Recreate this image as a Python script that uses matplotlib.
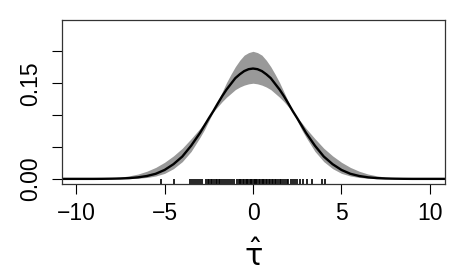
import matplotlib
matplotlib.use('Agg')
import matplotlib.pyplot as plt

plt.rcParams['font.family'] = ['Liberation Sans', 'DejaVu Sans']
plt.rcParams['mathtext.fontset'] = 'dejavusans'

# tau grid the curves were read at (finer near the peak)
x = [-11.0, -10.5, -10.0, -9.5, -9.0, -8.5, -8.0, -7.5, -7.0, -6.5, -6.0,
     -5.5, -5.0, -4.5, -4.0, -3.5, -3.0, -2.75, -2.5, -2.25, -2.0, -1.75,
     -1.5, -1.25, -1.0, -0.75, -0.5, -0.25,
     0.0, 0.25, 0.5, 0.75, 1.0, 1.25, 1.5, 1.75, 2.0, 2.25, 2.5, 2.75,
     3.0, 3.5, 4.0, 4.5, 5.0, 5.5, 6.0, 6.5, 7.0, 7.5, 8.0, 8.5, 9.0,
     9.5, 10.0, 10.5, 11.0]

# estimated density (black line)
dens = [0, 0, 0, 0, 0, 0.0001, 0.0003, 0.0006, 0.0012, 0.0024, 0.0045,
        0.008, 0.014, 0.023, 0.035, 0.052, 0.072, 0.0835, 0.095, 0.106, 0.118, 0.1295,
        0.140, 0.149, 0.158, 0.164, 0.169, 0.172,
        0.173, 0.172, 0.169, 0.164, 0.158, 0.149, 0.140, 0.1295, 0.118, 0.106, 0.095, 0.0835,
        0.072, 0.052, 0.035, 0.023, 0.014, 0.008, 0.0045, 0.0024, 0.0012, 0.0006, 0.0003,
        0.0001, 0, 0, 0, 0, 0]

# pointwise band (grey)
upper = [0, 0, 0.0001, 0.0003, 0.0005, 0.0009, 0.0016, 0.0028, 0.0047, 0.0076, 0.012,
         0.018, 0.026, 0.036, 0.048, 0.063, 0.079, 0.088, 0.096, 0.106, 0.121, 0.136,
         0.151, 0.164, 0.176, 0.186, 0.194, 0.198,
         0.200, 0.198, 0.194, 0.186, 0.176, 0.164, 0.151, 0.136, 0.121, 0.106, 0.096, 0.088,
         0.079, 0.063, 0.048, 0.036, 0.026, 0.018, 0.012, 0.0076, 0.0047, 0.0028, 0.0016,
         0.0009, 0.0005, 0.0003, 0.0001, 0, 0]
lower = [0, 0, 0, 0, 0, 0, 0.0001, 0.0002, 0.0004, 0.001, 0.0022,
         0.0045, 0.0086, 0.016, 0.027, 0.043, 0.065, 0.077, 0.091, 0.105, 0.113, 0.121,
         0.128, 0.134, 0.140, 0.144, 0.147, 0.149,
         0.150, 0.149, 0.147, 0.144, 0.140, 0.134, 0.128, 0.121, 0.113, 0.105, 0.091, 0.077,
         0.065, 0.043, 0.027, 0.016, 0.0086, 0.0045, 0.0022, 0.001, 0.0004, 0.0002, 0.0001,
         0, 0, 0, 0, 0, 0]

# observed estimates shown as a rug
rug = [-5.23, -4.44, -3.58, -3.45, -3.35, -3.22, -3.1, -2.98, -2.88, -2.65, -2.55,
       -2.47, -2.38, -2.3, -2.2, -2.12, -2.02, -1.93, -1.84, -1.75, -1.62, -1.52,
       -1.43, -1.33, -1.2, -1.09, -0.9, -0.82, -0.74, -0.66, -0.58, -0.5, -0.42,
       -0.35, -0.27, -0.2, -0.12, -0.05, 0.03, 0.1, 0.18, 0.25, 0.33, 0.41, 0.48,
       0.56, 0.64, 0.72, 0.8, 0.88, 0.96, 1.05, 1.14, 1.22, 1.3, 1.4, 1.5, 1.6,
       1.7, 1.8, 1.9, 2.0, 2.12, 2.25, 2.38, 2.48, 2.63, 2.85, 3.05, 3.33, 3.89, 4.08]

yticks = [0.0, 0.05, 0.10, 0.15, 0.20]
ylabels = ['0.00', '', '', '0.15', '']
xticks = [-10, -5, 0, 5, 10]
xlabels = ['\u221210', '\u22125', '0', '5', '10']

fig = plt.figure(figsize=(4.64, 2.75), dpi=100)
ax = fig.add_axes([0.1336, 0.331, 0.8254, 0.596])

ax.fill_between(x, lower, upper, color='#999999', lw=0)
ax.plot(x, dens, color='black', lw=1.7)
ax.vlines(rug, 0, 0.03, transform=ax.get_xaxis_transform(), color='black', lw=1.2)

ax.set_xlim(-10.8, 10.85)
ax.set_ylim(-0.008, 0.249)
ax.set_xticks(xticks)
ax.set_xticklabels(xlabels)
ax.set_yticks(yticks)
ax.set_yticklabels(ylabels, rotation=90, va='center')
ax.tick_params(labelsize=16.5, length=7, width=0.8, colors='black')
ax.tick_params(axis='y', pad=7)
ax.tick_params(axis='x', pad=6)
for s in ax.spines.values():
    s.set_linewidth(0.9)
    s.set_color('#333333')

ax.set_xlabel(r'$\hat{\mathrm{\tau}}$', fontsize=22, labelpad=11.5)

fig.savefig('out.png', dpi=100)
